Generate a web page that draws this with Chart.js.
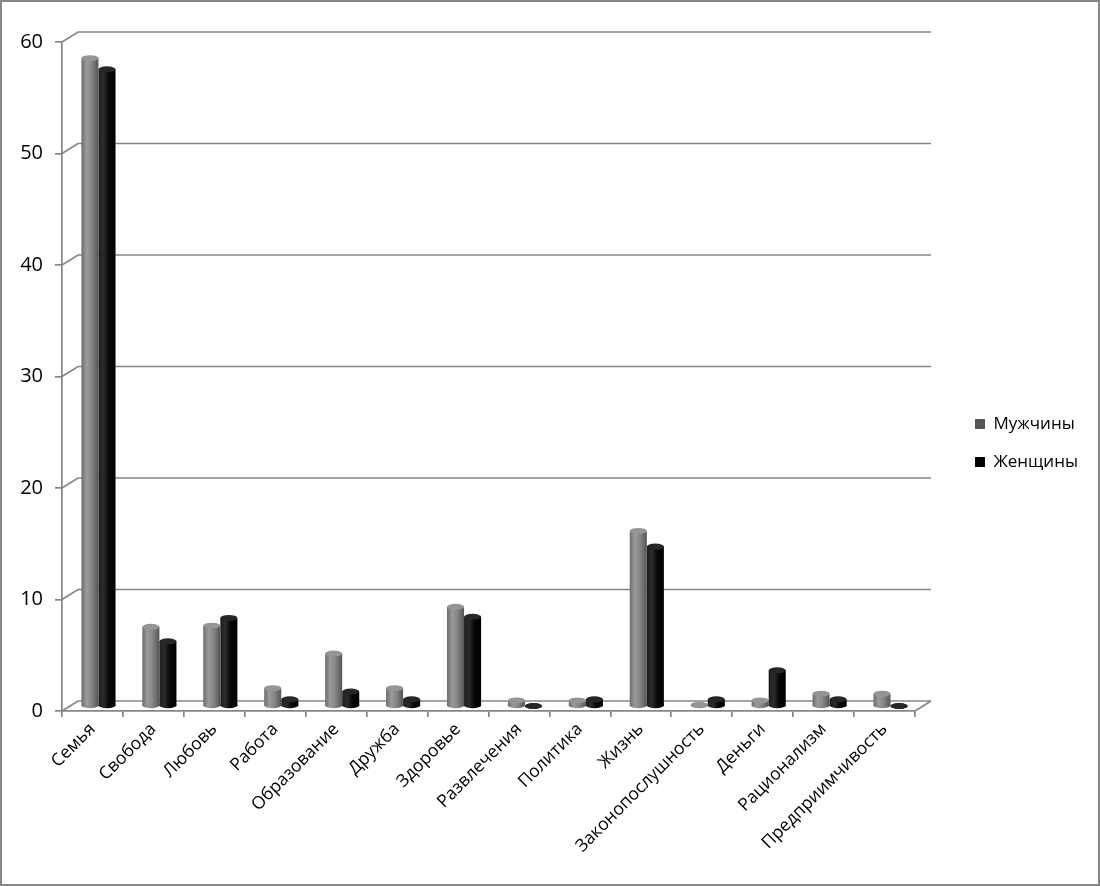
<!DOCTYPE html>
<html><head><meta charset="utf-8">
<script src="https://cdn.jsdelivr.net/npm/chart.js@4.4.0/dist/chart.umd.min.js"></script>
<style>
html,body{margin:0;padding:0;background:#fff;}
#wrap{width:1100px;height:886px;box-sizing:border-box;border:2px solid #878787;position:relative;background:#fff;}
canvas{display:block;}
</style></head><body>
<div id="wrap"><canvas id="c" width="1096" height="882" style="width:1096px;height:882px"></canvas></div>
<script>
const categories = ['Семья','Свобода','Любовь','Работа','Образование','Дружба','Здоровье','Развлечения','Политика','Жизнь','Законопослушность','Деньги','Рационализм','Предприимчивость'];
const menValues   = [58.1, 7.1, 7.2, 1.6, 4.7, 1.6, 8.9, 0.5, 0.5, 15.7, 0.1, 0.5, 1.1, 1.1];
const womenValues = [57.1, 5.8, 7.9, 0.6, 1.3, 0.6, 8.0, 0.0, 0.6, 14.3, 0.6, 3.2, 0.6, 0.0];
const seriesNames = ['Мужчины','Женщины'];
const yTicks = [0, 10, 20, 30, 40, 50, 60];

const FONT = "'Open Sans', 'DejaVu Sans', sans-serif";
const GRID = '#868686';
const DX = 16, DY = -10;     // back wall depth offset
const BX = 6, BY = -5;       // bar depth offset
const CAT_PCT = 0.56;
const LEG_PAD = 21, LEG_BOX = 10, LEG_FONT = 17;
const GAP = 39;

Chart.defaults.font.family = FONT;
Chart.defaults.color = '#000';

const mctx = document.createElement('canvas').getContext('2d');
mctx.font = LEG_FONT + 'px ' + FONT;
const legTextW = Math.max(...seriesNames.map(s => mctx.measureText(s).width));
const legW = LEG_PAD + LEG_BOX + LEG_FONT / 2 + legTextW + 10;
const padR = Math.max(0, 183 - GAP - legW);

function barFill(base, stops) {
  return function (c) {
    if (c.type !== 'data') return base;
    const xs = c.chart.scales.x;
    if (!xs || !xs.width) return base;
    const cw = xs.width / categories.length;
    const center = xs.getPixelForValue(c.dataIndex);
    const bw = cw * CAT_PCT / 2;
    const l = center - cw * CAT_PCT / 2 + c.datasetIndex * bw;
    const g = c.chart.ctx.createLinearGradient(l, 0, l + bw, 0);
    stops.forEach(s => g.addColorStop(s[0], s[1]));
    return g;
  };
}
const grayStops = [[0, '#6c6c6c'], [0.3, '#9a9a9a'], [0.6, '#858585'], [1, '#555555']];
const blackStops = [[0, '#1e1e1e'], [0.3, '#2c2c2c'], [0.6, '#080808'], [1, '#000000']];
const capColors = ['#959595', '#262626'];

const wallPlugin = {
  id: 'wall',
  beforeDatasetsDraw(chart) {
    const {ctx, chartArea: a, scales: {y}} = chart;
    ctx.save();
    ctx.strokeStyle = GRID;
    ctx.lineWidth = 1.7;
    yTicks.forEach(v => {
      const py = y.getPixelForValue(v);
      ctx.beginPath();
      ctx.moveTo(a.left, py);
      ctx.lineTo(a.left + DX, py + DY);
      ctx.lineTo(a.right + DX, py + DY);
      ctx.stroke();
    });
    const pb = y.getPixelForValue(0);
    ctx.beginPath();
    ctx.moveTo(a.right, pb);
    ctx.lineTo(a.right + DX, pb + DY);
    ctx.stroke();
    ctx.restore();
    ctx.save();
    ctx.translate(BX, BY);
  },
  afterDatasetsDraw(chart) {
    const ctx = chart.ctx;
    chart.data.datasets.forEach((ds, di) => {
      const meta = chart.getDatasetMeta(di);
      meta.data.forEach(el => {
        const rx = el.width / 2;
        ctx.fillStyle = el.options.backgroundColor;
        ctx.beginPath();
        ctx.ellipse(el.x, el.base, rx, 3, 0, 0, Math.PI * 2);
        ctx.fill();
        ctx.fillStyle = capColors[di];
        ctx.beginPath();
        ctx.ellipse(el.x, el.y, rx, 3, 0, 0, Math.PI * 2);
        ctx.fill();
      });
    });
    ctx.restore();
  }
};

new Chart(document.getElementById('c'), {
  type: 'bar',
  data: {
    labels: categories,
    datasets: [
      {label: seriesNames[0], data: menValues, backgroundColor: barFill('#808080', grayStops), borderWidth: 0},
      {label: seriesNames[1], data: womenValues, backgroundColor: barFill('#000000', blackStops), borderWidth: 0}
    ]
  },
  options: {
    responsive: false,
    animation: false,
    events: [],
    datasets: {bar: {categoryPercentage: CAT_PCT, barPercentage: 1}},
    layout: {padding: {left: 0, top: 0, bottom: 0, right: padR}},
    plugins: {
      legend: {
        position: 'right',
        labels: {boxWidth: LEG_BOX, boxHeight: LEG_BOX, padding: LEG_PAD, font: {size: LEG_FONT}, color: '#000'}
      },
      tooltip: {enabled: false}
    },
    scales: {
      x: {
        offset: true,
        grid: {display: true, drawOnChartArea: false, drawTicks: true, tickLength: 6, color: GRID, lineWidth: 1.7, offset: true},
        border: {display: true, color: GRID, width: 1.7},
        ticks: {autoSkip: false, maxRotation: 45, minRotation: 45, font: {size: 17.5}, padding: 2, color: '#000'},
        afterFit(s) { s.height = 173; }
      },
      y: {
        min: 0, max: 60,
        afterBuildTicks(s) { s.ticks = yTicks.map(v => ({value: v})); },
        grid: {display: true, drawOnChartArea: false, drawTicks: true, tickLength: 7, color: GRID, lineWidth: 1.7},
        border: {display: true, color: GRID, width: 1.7},
        ticks: {font: {size: 20}, padding: 12, color: '#000'},
        afterFit(s) { s.width = 60; s.paddingTop = 40; }
      },
      gap: {
        type: 'linear', position: 'right', display: true,
        grid: {display: false}, border: {display: false}, ticks: {display: false},
        afterFit(s) { s.width = GAP; }
      }
    }
  },
  plugins: [wallPlugin]
});
</script>
</body></html>
